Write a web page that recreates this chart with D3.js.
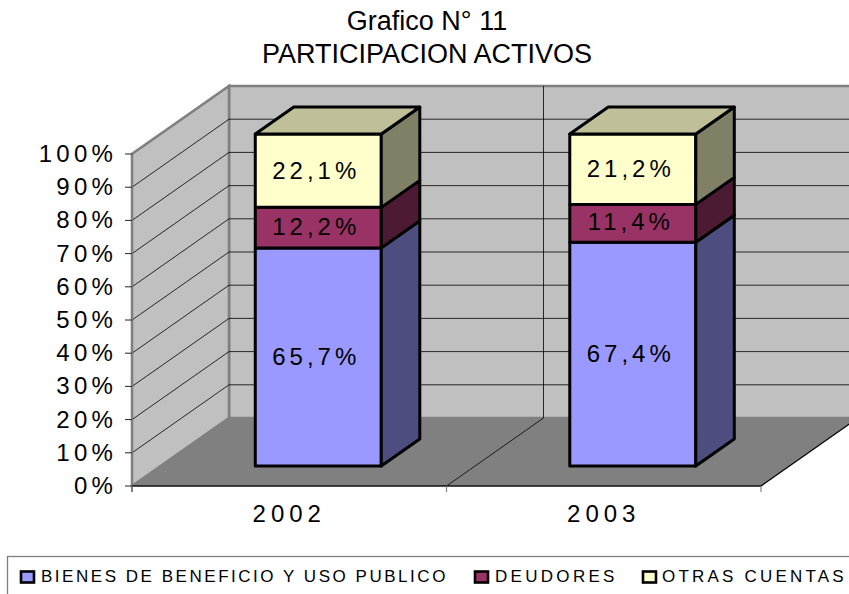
<!DOCTYPE html>
<html><head><meta charset="utf-8">
<script src="https://cdn.jsdelivr.net/npm/d3@7"></script>
<style>html,body{margin:0;padding:0;background:#fff}svg{display:block}text{font-family:"Liberation Sans",Arial,sans-serif;fill:#000}</style>
</head><body><div id="c"></div>
<script>
const categories = ["2002","2003"];
const seriesNames = ["BIENES DE BENEFICIO Y USO PUBLICO","DEUDORES","OTRAS CUENTAS"];
const bienes = [65.7,67.4];
const deudores = [12.2,11.4];
const otras = [22.1,21.2];
const labels = [["65,7%","67,4%"],["12,2%","11,4%"],["22,1%","21,2%"]];
const frontColors = ["#9999ff","#993366","#ffffcc"];
const sideColors = ["#4d4d80","#4d1a33","#808066"];
const topColor = "#bfbf99";
const ticks = [0,10,20,30,40,50,60,70,80,90,100];
const W=849,H=594;
const svg=d3.select("#c").append("svg").attr("width",W).attr("height",H);
svg.append("defs").append("clipPath").attr("id","vp").append("rect").attr("width",W).attr("height",H);
const x=d3.scaleBand().domain(categories).range([132,761]);
const y=d3.scaleLinear().domain([0,100]).range([486,154]);
const DX=97,DY=-68;
const proj=(px,val,d)=>[px+DX*d,y(val)+DY*d];
const line=d3.line();
const g=svg.append("g").attr("clip-path","url(#vp)");
const poly=(pts,fill,stroke,sw)=>g.append("path").attr("d",line(pts)+"Z").attr("fill",fill).attr("stroke",stroke||"none").attr("stroke-width",sw||0).attr("stroke-linejoin","miter");
const x0=x.range()[0],x1=x.range()[1];
poly([proj(x0,0,1),proj(x1,0,1),proj(x1,100,1),proj(x0,100,1)],"#c0c0c0","#808080",2.6);
poly([proj(x0,0,0),proj(x0,0,1),proj(x0,100,1),proj(x0,100,0)],"#c0c0c0","#808080",2.6);
poly([proj(x0,0,0),proj(x1,0,0),proj(x1,0,1),proj(x0,0,1)],"#808080");
ticks.filter(t=>t>0&&t<100).forEach(t=>{
  g.append("path").attr("d",line([proj(x0,t,0),proj(x0,t,1),proj(x1,t,1)])).attr("fill","none").attr("stroke","#000").attr("stroke-width",1).attr("stroke-opacity",.8);
});
const xm=x(categories[1]);
g.append("path").attr("d",line([proj(xm,0,0),proj(xm,0,1),proj(xm,100,1)])).attr("fill","none").attr("stroke","#000").attr("stroke-width",1).attr("stroke-opacity",.8);
g.append("path").attr("d",line([proj(x1,0,0),proj(x1,0,1)])).attr("fill","none").attr("stroke","#000").attr("stroke-width",1.3);
const axisG=svg.append("g");
axisG.append("path").attr("d",line([[x0,y(100)],[x0,y(0)+6]])).attr("stroke","#808080").attr("stroke-width",2).attr("fill","none");
ticks.forEach(t=>{
  axisG.append("line").attr("x1",x0-7).attr("x2",x0).attr("y1",y(t)).attr("y2",y(t)).attr("stroke","#222").attr("stroke-width",1);
  axisG.append("text").attr("x",x0-15).attr("y",y(t)+8).attr("text-anchor","end").attr("font-size",24).attr("letter-spacing",4.2).text(t+"%");
});
axisG.append("line").attr("x1",x0).attr("x2",x1).attr("y1",y(0)).attr("y2",y(0)).attr("stroke","#111").attr("stroke-width",1.6);
[x0,xm,x1].forEach(v=>axisG.append("line").attr("x1",v).attr("x2",v).attr("y1",y(0)).attr("y2",y(0)+6).attr("stroke","#808080").attr("stroke-width",1.2));
categories.forEach(c=>{
  axisG.append("text").attr("x",x(c)+x.bandwidth()/2).attr("y",522).attr("text-anchor","middle").attr("font-size",24).attr("letter-spacing",5).text(c);
});
const series=[bienes,deudores,otras];
const depthFront=20/68, depthBack=47/68;
const barW=126;
const barG=svg.append("g");
categories.forEach((c,i)=>{
  const cx=x(c)+x.bandwidth()/2+0.5;
  const l=cx-barW/2, r=cx+barW/2;
  let acc=0;
  series.forEach((s,k)=>{
    const a=acc,b=acc+s[i];acc=b;
    const draw=(pts,f)=>barG.append("path").attr("d",line(pts)+"Z").attr("fill",f).attr("stroke","#000").attr("stroke-width",3).attr("stroke-linejoin","round");
    draw([proj(l,a,depthFront),proj(r,a,depthFront),proj(r,b,depthFront),proj(l,b,depthFront)],frontColors[k]);
    draw([proj(r,a,depthFront),proj(r,a,depthBack),proj(r,b,depthBack),proj(r,b,depthFront)],sideColors[k]);
    if(k===series.length-1) draw([proj(l,b,depthFront),proj(r,b,depthFront),proj(r,b,depthBack),proj(l,b,depthBack)],topColor);
    const m=proj((l+r)/2,(a+b)/2,depthFront);
    barG.append("text").attr("x",m[0]-2).attr("y",m[1]+(k===1?7:8)).attr("text-anchor","middle").attr("font-size",24).attr("letter-spacing",4).text(labels[k][i]);
  });
});
svg.append("text").attr("x",427).attr("y",30).attr("text-anchor","middle").attr("font-size",27).text("Grafico N° 11");
svg.append("text").attr("x",427).attr("y",63).attr("text-anchor","middle").attr("font-size",27).text("PARTICIPACION ACTIVOS");
svg.append("rect").attr("x",7.5).attr("y",556.5).attr("width",860).attr("height",60).attr("fill","#fff").attr("stroke","#808080").attr("stroke-width",1.3);
const legendSwatch=[21,475,643], legendText=[41,495,662], legendSpacing=[2.53,3.3,3.2];
seriesNames.forEach((n,k)=>{
  svg.append("rect").attr("x",legendSwatch[k]).attr("y",571.5).attr("width",13).attr("height",11).attr("fill",frontColors[k]).attr("stroke","#000").attr("stroke-width",2.6);
  svg.append("text").attr("x",legendText[k]).attr("y",582).attr("font-size",17).attr("letter-spacing",legendSpacing[k]).text(n);
});
</script></body></html>
